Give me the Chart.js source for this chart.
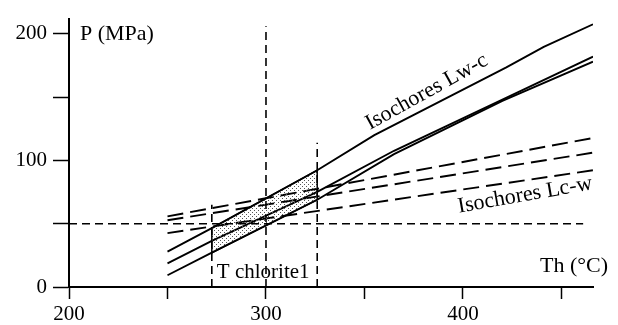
<!DOCTYPE html>
<html>
<head>
<meta charset="utf-8">
<script src="https://cdn.jsdelivr.net/npm/chart.js@4.4.1/dist/chart.umd.min.js"></script>
<style>
  body { margin: 0; background: #fff; }
  #wrap { width: 618px; height: 325px; position: relative; }
</style>
</head>
<body>
<div id="wrap"><canvas id="chart"></canvas></div>
<script>
// Isochores Lw-c (solid)
const lwcTopT = [250, 272.5, 326, 355, 422, 441, 466];
const lwcTopP = [27.9, 46.5, 92.2, 120, 173.5, 189.7, 207.5];
const lwcMidT = [250, 272.5, 326, 365, 420, 466];
const lwcMidP = [18.6, 36.4, 75.1, 107.6, 148, 182];
const lwcLowT = [250, 272.5, 326, 365, 420, 466];
const lwcLowP = [9.3, 27.1, 68.9, 105, 147, 178];

// Isochores Lc-w (dashed)
const lcwT = [250, 466];
const lcw1P = [55.8, 117.7];
const lcw2P = [52.7, 106.1];
const lcw3P = [42.6, 92.2];

// reference lines
const pChlorite = 50;
const pLineT = [200, 461];
const tChlorite = 272.5;
const tMid = 300;
const tRight = 326;
const vertTopP = [65, 206, 114];

// dotted field between T chlorite1 and the right limit
const bandT = [272.5, 326];
const bandTop = [46.5, 92.2];
const bandBottom = [27.1, 68.9];

const xTicks = [200, 300, 400];
const yTicks = [0, 100, 200];

function pts(xs, ys) {
    return xs.map((v, i) => ({ x: v, y: ys[i] }));
}

// motif pointillé
const tile = document.createElement('canvas');
tile.width = 4; tile.height = 4;
const tctx = tile.getContext('2d');
tctx.fillStyle = '#555';
tctx.fillRect(0, 0, 1, 1);
tctx.fillRect(2, 2, 1, 1);
const dots = tctx.createPattern(tile, 'repeat');

const bandPoly = pts(bandT, bandTop).concat(pts(bandT.slice().reverse(), bandBottom.slice().reverse()));
bandPoly.push(bandPoly[0]);

const solid = { borderColor: '#000', borderWidth: 1.9, pointRadius: 0, showLine: true, fill: false };
const dashLong = { borderColor: '#000', borderWidth: 1.9, borderDash: [16, 7], pointRadius: 0, showLine: true, fill: false };
const dashShort = { borderColor: '#000', borderWidth: 1.6, borderDash: [8, 5], pointRadius: 0, showLine: true, fill: false };

const datasets = [
    { data: bandPoly, borderColor: '#000', borderWidth: 1.5, pointRadius: 0, showLine: true, fill: 'shape', backgroundColor: dots },
    Object.assign({ data: pts(lwcTopT, lwcTopP) }, solid),
    Object.assign({ data: pts(lwcMidT, lwcMidP) }, solid),
    Object.assign({ data: pts(lwcLowT, lwcLowP) }, solid),
    Object.assign({ data: pts(lcwT, lcw1P) }, dashLong),
    Object.assign({ data: pts(lcwT, lcw2P) }, dashLong),
    Object.assign({ data: pts(lcwT, lcw3P) }, dashLong),
    Object.assign({ data: pts(pLineT, [pChlorite, pChlorite]) }, dashShort),
    Object.assign({ data: pts([tChlorite, tChlorite], [0, vertTopP[0]]) }, dashShort),
    Object.assign({ data: pts([tMid, tMid], [0, vertTopP[1]]) }, dashShort),
    Object.assign({ data: pts([tRight, tRight], [0, vertTopP[2]]) }, dashShort)
];

// textes du diagramme
const annotations = {
    id: 'annotations',
    afterDatasetsDraw(chart) {
        const { ctx, chartArea, scales: { x, y } } = chart;
        ctx.save();
        ctx.fillStyle = '#000';
        ctx.textBaseline = 'alphabetic';

        ctx.font = '22px "Liberation Serif"';
        ctx.textAlign = 'left';
        ctx.fillText('P (MPa)', chartArea.left + 11, chartArea.top + 21);
        ctx.textAlign = 'right';
        ctx.fillText('Th (°C)', chartArea.right + 15, chartArea.bottom - 15);

        ctx.font = '21px "Liberation Serif"';
        ctx.textAlign = 'left';
        ctx.fillText('T chlorite1', x.getPixelForValue(tChlorite) + 5, y.getPixelForValue(7));

        ctx.font = '22px "Liberation Serif"';
        ctx.textAlign = 'center';
        ctx.save();
        ctx.translate(x.getPixelForValue(383), y.getPixelForValue(150));
        ctx.rotate(-29 * Math.PI / 180);
        ctx.fillText('Isochores Lw-c', 0, 0);
        ctx.restore();

        ctx.save();
        ctx.translate(x.getPixelForValue(432), y.getPixelForValue(68));
        ctx.rotate(-10 * Math.PI / 180);
        ctx.fillText('Isochores Lc-w', 0, 0);
        ctx.restore();

        ctx.restore();
    }
};

const tickFont = { family: 'Liberation Serif', size: 21 };

new Chart(document.getElementById('chart'), {
    type: 'scatter',
    data: { datasets: datasets },
    options: {
        responsive: true,
        maintainAspectRatio: false,
        animation: false,
        layout: { padding: { top: 13, right: 25, left: 0, bottom: 0 } },
        plugins: {
            legend: { display: false },
            tooltip: { enabled: false }
        },
        scales: {
            x: {
                type: 'linear',
                min: 200,
                max: 466,
                afterFit: s => { s.height = 38; },
                border: { display: true, color: '#000', width: 2 },
                grid: { drawOnChartArea: false, drawTicks: true, tickLength: 12, tickColor: '#000', tickWidth: 1.5 },
                ticks: {
                    stepSize: 50,
                    includeBounds: false,
                    autoSkip: false,
                    maxRotation: 0,
                    padding: 3,
                    color: '#000',
                    font: tickFont,
                    callback: v => xTicks.includes(v) ? String(v) : ''
                }
            },
            y: {
                type: 'linear',
                min: 0,
                max: 212,
                afterFit: s => { s.width = 69; },
                border: { display: true, color: '#000', width: 2 },
                grid: { drawOnChartArea: false, drawTicks: true, tickLength: 16, tickColor: '#000', tickWidth: 1.5 },
                ticks: {
                    stepSize: 50,
                    includeBounds: false,
                    autoSkip: false,
                    padding: 6,
                    color: '#000',
                    font: tickFont,
                    callback: v => yTicks.includes(v) ? String(v) : ''
                }
            }
        }
    },
    plugins: [annotations]
});
</script>
</body>
</html>
